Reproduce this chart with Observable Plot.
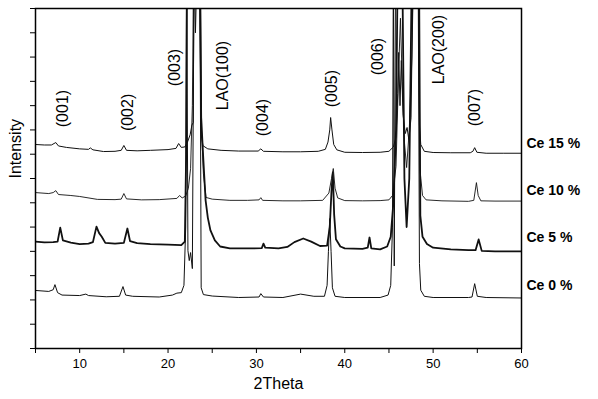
<!DOCTYPE html>
<html><head><meta charset="utf-8">
<script src="https://cdn.jsdelivr.net/npm/d3@7"></script>
<script src="https://cdn.jsdelivr.net/npm/@observablehq/plot@0.6"></script>
<style>body{margin:0;background:#fff;} #chart svg{display:block}</style>
</head><body><div id="chart"></div>
<script>
// [2Theta, intensity (a.u., offset per sample)]
const ce15 = [[5,8.40],[6,8.38],[6.8,8.38],[7.1,8.44],[7.3,8.48],[7.6,8.34],[8.5,8.28],[10,8.22],[11,8.2],[11.2,8.26],[11.5,8.18],[12.7,8.11],[14,8.12],[14.7,8.16],[15.0,8.36],[15.3,8.16],[16.5,8.14],[18,8.16],[20,8.19],[20.9,8.24],[21.2,8.44],[21.5,8.28],[21.9,8.3],[22.2,8.5],[22.5,8.8],[22.7,9.2],[22.85,9.3],[22.95,16],[23.1,13],[23.3,16],[23.55,16],[23.75,8.8],[23.95,8.35],[24.5,8.22],[26,8.16],[28,8.13],[30.2,8.13],[30.5,8.22],[30.8,8.12],[33,8.1],[35,8.1],[37,8.12],[37.8,8.2],[38.1,8.5],[38.3,9.0],[38.4,9.51],[38.55,9.0],[38.75,8.4],[39.1,8.18],[40,8.08],[42,8.07],[44,8.08],[45,8.12],[45.5,8.3],[45.8,8.7],[46.0,10.5],[46.1,12.19],[46.25,10],[46.4,11.86],[46.6,9.6],[46.85,8.85],[47.05,9.1],[47.25,8.6],[47.5,9.5],[47.75,16],[48.3,16],[48.45,9.2],[48.6,8.4],[49,8.12],[50,8.07],[52,8.06],[54.2,8.06],[54.5,8.12],[54.7,8.27],[54.95,8.08],[56,8.04],[58,8.04],[60,8.04]];
const ce10 = [[5,6.42],[6.5,6.38],[7.0,6.42],[7.3,6.5],[7.6,6.34],[9,6.3],[10,6.26],[12,6.14],[14,6.13],[14.7,6.15],[15.0,6.38],[15.3,6.16],[17,6.12],[19,6.13],[21,6.18],[21.3,6.3],[21.6,6.2],[22.0,6.28],[22.3,6.6],[22.55,7.4],[22.75,10],[22.9,16],[23.2,16],[23.4,16],[23.65,16],[23.8,9.0],[24.0,7.2],[24.3,6.22],[25,6.15],[27,6.1],[29,6.1],[30.3,6.12],[30.5,6.21],[30.7,6.1],[33,6.08],[35,6.08],[37.5,6.1],[38.2,6.4],[38.5,7.0],[38.7,7.41],[38.9,6.6],[39.2,6.2],[40,6.09],[42,6.08],[44,6.09],[45,6.12],[45.4,6.3],[45.8,7.5],[46.1,11.5],[46.3,13.6],[46.5,11.0],[46.75,8.5],[47.0,7.45],[47.3,9.0],[47.6,12],[47.8,16],[48.35,16],[48.5,7.4],[48.8,6.3],[49.2,6.12],[51,6.08],[54,6.06],[54.6,6.1],[54.9,6.83],[55.1,6.3],[55.4,6.08],[57,6.07],[60,6.07]];
const ce5 = [[5,4.40],[6,4.37],[7,4.38],[7.5,4.4],[7.8,4.98],[8.1,4.45],[9,4.36],[10,4.3],[11,4.32],[11.5,4.38],[11.9,5.02],[12.2,4.75],[12.5,4.6],[12.9,4.35],[14,4.32],[15.0,4.35],[15.4,4.94],[15.7,4.42],[16.5,4.34],[18,4.3],[20,4.28],[21.5,4.26],[21.9,4.4],[22.05,8],[22.15,16],[23.6,16],[23.75,9.5],[24.0,7.74],[24.25,6.1],[24.5,5.39],[24.8,4.86],[25.3,4.45],[25.9,4.2],[27,4.12],[29,4.12],[30.6,4.13],[30.8,4.32],[31.0,4.15],[32.5,4.12],[33.5,4.18],[34.3,4.38],[35.3,4.53],[36.2,4.4],[37.2,4.22],[38.0,4.24],[38.3,5],[38.5,6.5],[38.65,7.25],[38.8,5.5],[39.0,4.5],[39.5,4.2],[40,4.12],[42,4.1],[42.6,4.15],[42.8,4.57],[43.0,4.12],[44,4.08],[44.8,4.2],[45.2,4.6],[45.5,6],[45.8,9],[46.0,16],[46.5,16],[46.75,7],[47.0,5.0],[47.3,7],[47.6,16],[48.4,16],[48.55,5.47],[48.8,4.6],[49.3,4.3],[50,4.15],[52,4.08],[54,4.05],[54.8,4.05],[55.15,4.49],[55.5,4.02],[57,4.0],[60,4.0]];
const ce0 = [[5,2.39],[6.5,2.35],[7.0,2.42],[7.2,2.63],[7.5,2.3],[8,2.2],[10,2.18],[10.7,2.24],[11,2.18],[13,2.13],[14.5,2.15],[14.9,2.55],[15.2,2.2],[16,2.15],[19,2.12],[20.5,2.2],[21.0,2.28],[21.5,2.3],[21.8,2.6],[22.0,5],[22.1,16],[22.25,4.03],[22.4,3.62],[22.55,3.95],[22.75,3.29],[22.95,16],[23.6,16],[23.75,2.5],[24.0,2.22],[25,2.16],[28,2.1],[30.3,2.12],[30.5,2.26],[30.8,2.12],[33,2.1],[35,2.24],[36.5,2.15],[37.7,2.15],[38.0,2.6],[38.15,4],[38.3,5.35],[38.45,4],[38.6,2.5],[38.9,2.15],[40,2.1],[44,2.1],[44.9,2.2],[45.2,2.6],[45.4,5],[45.5,16],[45.6,3.4],[45.75,16],[48.3,16],[48.45,3.5],[48.6,2.4],[49,2.15],[50,2.1],[54,2.1],[54.4,2.12],[54.7,2.67],[55.0,2.15],[56,2.1],[60,2.08]];

const seriesNames = ["Ce 15 %", "Ce 10 %", "Ce 5 %", "Ce 0 %"];
const seriesLevel = [8.44, 6.5, 4.57, 2.59];

const peakNames = ["(001)", "(002)", "(003)", "LAO(100)", "(004)", "(005)", "(006)", "LAO(200)", "(007)"];
const peakTheta = [8.1, 15.5, 20.8, 26.2, 30.7, 38.5, 43.8, 50.6, 54.7];
const peakLevel = [9.88, 9.72, 11.57, 11.24, 9.51, 10.7, 12.02, 12.31, 9.92];

const xMajor = [10, 20, 30, 40, 50, 60];
const xMinor = [5, 15, 25, 35, 45, 55];
const yTicks = [0,1,2,3,4,5,6,7,8,9,10,11,12,13,14];

const lineOpts = {x: d => d[0], y: d => d[1], stroke: "#111", clip: true, curve: "linear"};

const chart = Plot.plot({
  width: 598, height: 399,
  marginLeft: 35, marginRight: 77, marginTop: 8, marginBottom: 51,
  style: {fontFamily: "'Liberation Sans', Arial, sans-serif", fontSize: "13px", color: "#000", background: "#fff"},
  x: {domain: [5, 60]},
  y: {domain: [0, 14]},
  marks: [
    Plot.axisX(xMajor, {tickSize: 5, tickPadding: 5, fontSize: 13, label: null}),
    Plot.axisX(xMinor, {tickSize: 5, tickFormat: () => "", label: null}),
    Plot.axisY(yTicks, {tickSize: 5, tickFormat: () => "", label: null}),
    Plot.line(ce15, {...lineOpts, strokeWidth: 1}),
    Plot.line(ce10, {...lineOpts, strokeWidth: 0.9}),
    Plot.line(ce5, {...lineOpts, strokeWidth: 1.8}),
    Plot.line(ce0, {...lineOpts, strokeWidth: 1}),
    Plot.frame({stroke: "#000", strokeWidth: 1.5}),
    Plot.text(peakNames, {x: peakTheta, y: peakLevel, text: d => d, rotate: -90, fontSize: 16}),
    Plot.text(seriesNames, {x: () => 60, y: seriesLevel, text: d => d, dx: 5, textAnchor: "start", fontWeight: "bold", fontSize: 14}),
    Plot.text(["2Theta"], {frameAnchor: "bottom", text: d => d, dy: 40, fontSize: 16}),
    Plot.text(["Intensity"], {frameAnchor: "left", text: d => d, dx: -20, rotate: -90, fontSize: 16})
  ]
});
document.getElementById("chart").appendChild(chart);
</script>
</body></html>
